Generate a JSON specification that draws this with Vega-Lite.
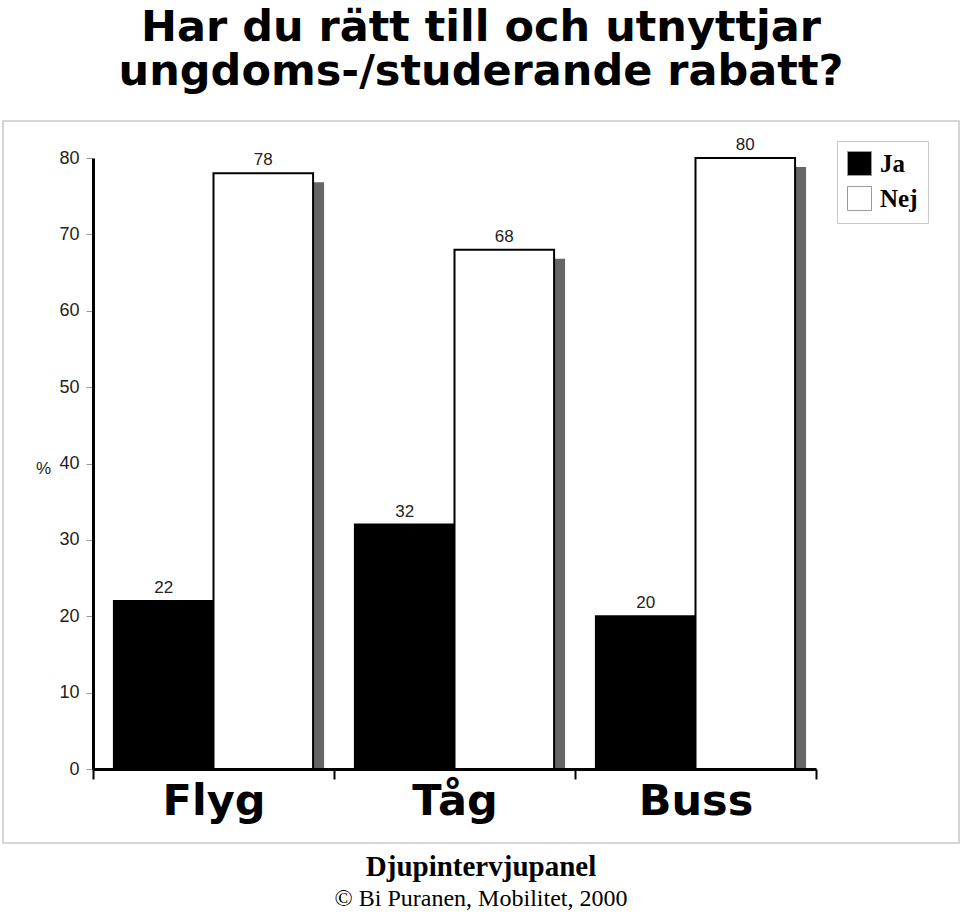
{
  "$schema": "https://vega.github.io/schema/vega-lite/v6.json",
  "background": "white",
  "padding": {"left": 2, "top": 2, "right": 2, "bottom": 0},
  "spacing": 18,
  "config": {
    "view": {"stroke": "#c8c8c8", "strokeWidth": 1.5}
  },
  "title": {
    "text": "Djupintervjupanel",
    "subtitle": "© Bi Puranen, Mobilitet, 2000",
    "orient": "bottom",
    "anchor": "middle",
    "offset": 9,
    "font": "Liberation Serif",
    "fontSize": 29,
    "fontWeight": "bold",
    "color": "black",
    "subtitleFont": "Liberation Serif",
    "subtitleFontSize": 24,
    "subtitleColor": "black",
    "subtitlePadding": 5
  },
  "datasets": {
    "heading": [
      {"t": "Har du rätt till och utnyttjar\nungdoms-/studerande rabatt?"}
    ],
    "answers": [
      {"mode": "Flyg", "answer": "Ja", "pct": 22},
      {"mode": "Flyg", "answer": "Nej", "pct": 78},
      {"mode": "Tåg", "answer": "Ja", "pct": 32},
      {"mode": "Tåg", "answer": "Nej", "pct": 68},
      {"mode": "Buss", "answer": "Ja", "pct": 20},
      {"mode": "Buss", "answer": "Nej", "pct": 80}
    ]
  },
  "vconcat": [
    {
      "width": 956,
      "height": 100,
      "data": {"name": "heading"},
      "mark": {
        "type": "text",
        "font": "DejaVu Sans",
        "fontWeight": "bold",
        "fontSize": 43,
        "lineBreak": "\n",
        "lineHeight": 44,
        "align": "center",
        "baseline": "alphabetic",
        "dy": -11,
        "color": "black"
      },
      "encoding": {
        "text": {"field": "t", "type": "nominal"}
      }
    },
    {
      "width": 956,
      "height": 722,
      "data": {"name": "answers"},
      "resolve": {"scale": {"xOffset": "independent"}},
      "encoding": {
        "x": {
          "field": "mode",
          "type": "nominal",
          "sort": ["Flyg", "Tåg", "Buss"],
          "scale": {"range": [90, 813], "paddingInner": 0, "paddingOuter": 0},
          "axis": {
            "title": null,
            "offset": -74,
            "zindex": 1,
            "domainColor": "black",
            "domainWidth": 3,
            "tickColor": "black",
            "tickWidth": 2,
            "tickSize": 10,
            "tickBand": "extent",
            "labelAngle": 0,
            "labelFont": "DejaVu Sans",
            "labelFontWeight": "bold",
            "labelFontSize": 43,
            "labelColor": "black",
            "labelBaseline": "alphabetic",
            "labelPadding": 35
          }
        },
        "y": {
          "field": "pct",
          "type": "quantitative",
          "scale": {"domain": [0, 80], "range": [648, 37], "nice": false},
          "axis": {
            "values": [0, 10, 20, 30, 40, 50, 60, 70, 80],
            "offset": -90,
            "grid": false,
            "domainColor": "black",
            "domainWidth": 3,
            "tickColor": "#999999",
            "tickSize": 7,
            "tickWidth": 1,
            "labelFont": "Liberation Sans",
            "labelFontSize": 18,
            "labelColor": "#222222",
            "labelPadding": 7,
            "title": "%",
            "titleAngle": 0,
            "titleFont": "Liberation Sans",
            "titleFontSize": 17,
            "titleFontWeight": "normal",
            "titleColor": "#222222",
            "titleX": -50,
            "titleY": 347,
            "titleAlign": "center",
            "titleBaseline": "middle"
          }
        }
      },
      "layer": [
        {
          "mark": {"type": "bar", "fill": "#666666", "yOffset": 9},
          "encoding": {
            "xOffset": {
              "field": "answer",
              "type": "nominal",
              "sort": ["Ja", "Nej"],
              "scale": {"paddingInner": 0, "paddingOuter": 0.21, "align": 0.763}
            },
            "y2": {"datum": 0}
          }
        },
        {
          "encoding": {
            "xOffset": {
              "field": "answer",
              "type": "nominal",
              "sort": ["Ja", "Nej"],
              "scale": {"type": "band", "paddingInner": 0, "paddingOuter": 0.21}
            }
          },
          "layer": [
            {
              "mark": {"type": "bar", "stroke": "black", "strokeWidth": 2},
              "encoding": {
                "fill": {
                  "field": "answer",
                  "type": "nominal",
                  "scale": {"domain": ["Ja", "Nej"], "range": ["black", "white"]},
                  "legend": {
                    "title": null,
                    "orient": "none",
                    "legendX": 834,
                    "legendY": 139,
                    "symbolType": "square",
                    "symbolSize": 576,
                    "symbolStrokeColor": "#999999",
                    "symbolStrokeWidth": 1,
                    "labelFont": "Liberation Serif",
                    "labelFontWeight": "bold",
                    "labelFontSize": 25,
                    "labelColor": "black",
                    "labelOffset": 8,
                    "rowPadding": 6,
                    "padding": 10,
                    "strokeColor": "#c8c8c8",
                    "fillColor": "white"
                  }
                }
              }
            },
            {
              "mark": {
                "type": "text",
                "baseline": "bottom",
                "dy": -4,
                "font": "Liberation Sans",
                "fontSize": 17,
                "color": "#222222"
              },
              "encoding": {
                "text": {"field": "pct", "type": "quantitative"}
              }
            }
          ]
        }
      ]
    }
  ]
}
